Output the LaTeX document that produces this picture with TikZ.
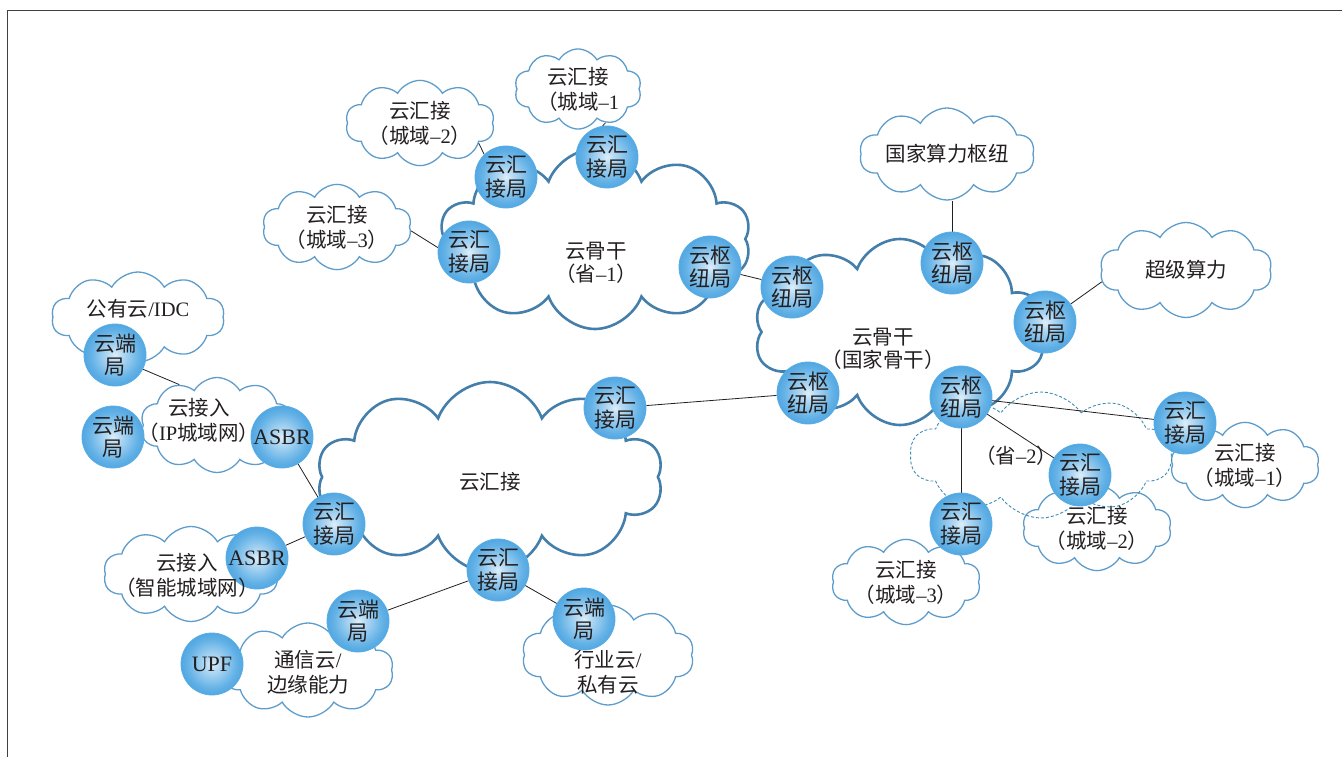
\documentclass[tikz,border=0pt]{standalone}
\usepackage{fontspec}
\setmainfont{Noto Sans CJK SC}
\newfontfamily\lat{Liberation Serif}
\usetikzlibrary{shapes.symbols}
\definecolor{ballA}{HTML}{DDEFFA}
\definecolor{ballB}{HTML}{B3D9F3}
\definecolor{ballC}{HTML}{62B1E6}
\definecolor{ballD}{HTML}{3595D8}
\definecolor{ballE}{HTML}{2580C8}
\definecolor{ballrim}{HTML}{5AAEE6}
\definecolor{cloudline}{HTML}{5E9DCB}
\definecolor{bigline}{HTML}{447FAC}
\definecolor{dashc}{HTML}{3F8CB2}
\definecolor{txt}{HTML}{231F20}
\pgfdeclarelayer{bg}
\pgfsetlayers{bg,main}
\pgfdeclareradialshading{ballshade}{\pgfpoint{0bp}{0bp}}{%
  color(0bp)=(ballA); color(6bp)=(ballB); color(20bp)=(ballC); color(34bp)=(ballD); color(50bp)=(ballE)}
\begin{document}
\begin{tikzpicture}[x=1pt,y=-1pt,
  ball/.style={circle,minimum size=62pt,inner sep=0pt,shading=ballshade,draw=ballrim,line width=0.8pt,
    align=center,font=\fontsize{21}{23.5}\selectfont,text=txt},
  smallcl/.style={cloud,cloud puffs=10,cloud puff arc=120,cloud ignores aspect,draw=cloudline,
    line width=1.3pt,fill=white,inner sep=0pt,align=center,font=\fontsize{20.5}{25}\selectfont,text=txt},
  bigcl/.style={cloud,cloud puffs=10,cloud puff arc=140,cloud ignores aspect,draw=bigline,
    line width=2.6pt,fill=white,inner sep=0pt},
  dashcl/.style={cloud,cloud puffs=10,cloud puff arc=110,cloud ignores aspect,draw=dashc,
    dash pattern=on 3pt off 2pt,line width=0.9pt,inner sep=0pt},
  lbl/.style={align=center,font=\fontsize{20.5}{23}\selectfont,text=txt,inner sep=0pt},
  clbl/.style={align=center,font=\fontsize{20.5}{25}\selectfont,text=txt,inner sep=0pt},
  link/.style={draw=txt,line width=0.8pt},
  frame/.style={draw=black!75,line width=0.9pt}]
\useasboundingbox (0,0) rectangle (1342,757);
\draw[frame] (7,757) -- (7,10) -- (1342,10);

% ---- stations ----
\node[ball] (A) at (506,177) {云汇\\接局};
\node[ball] (B) at (607,157) {云汇\\接局};
\node[ball] (C) at (469,252) {云汇\\接局};
\node[ball] (D) at (710,267) {云枢\\纽局};
\node[ball] (E) at (792,287) {云枢\\纽局};
\node[ball] (F) at (952,263) {云枢\\纽局};
\node[ball] (G) at (1045,322) {云枢\\纽局};
\node[ball] (H) at (808,393) {云枢\\纽局};
\node[ball] (I) at (961,397) {云枢\\纽局};
\node[ball] (J) at (1185,423) {云汇\\接局};
\node[ball] (K) at (1080,475) {云汇\\接局};
\node[ball] (L) at (961,524) {云汇\\接局};
\node[ball] (M) at (615,408) {云汇\\接局};
\node[ball] (N) at (334,524) {云汇\\接局};
\node[ball] (O) at (498,570) {云汇\\接局};
\node[ball,font=\fontsize{22}{24}\selectfont] (P) at (282,437) {\lat ASBR};
\node[ball,font=\fontsize{22}{24}\selectfont] (Q) at (257,558) {\lat ASBR};
\node[ball] (R) at (115,355) {云端\\局};
\node[ball] (S) at (113,437) {云端\\局};
\node[ball] (T) at (358,621) {云端\\局};
\node[ball] (U) at (584,619) {云端\\局};
\node[ball,font=\fontsize{22}{24}\selectfont] (V) at (212,664) {\lat UPF};

% ---- cloud labels ----
\node[lbl] (t1) at (596,263) {云骨干\\（省{\lat –1}）};
\node[lbl] (t2) at (883,349) {云骨干\\（国家骨干）};
\node[lbl] (t3) at (490,482) {云汇接};
\node[lbl] (t4) at (1016,456) {（省{\lat –2}）};
\node[clbl] (t5) at (138,309) {公有云{\lat /IDC}};
\node[clbl] (t6) at (199,420) {云接入\\（{\lat IP}城域网）};
\node[clbl] (t7) at (187,575) {云接入\\（智能城域网）};
\node[clbl] (t8) at (308,672) {通信云{\lat /}\\边缘能力};
\node[clbl] (t9) at (608,672) {行业云{\lat /}\\私有云};

\begin{pgfonlayer}{bg}
% big clouds
\node[bigcl,minimum width=312pt,minimum height=180pt] (p1) at (595,239) {};
\node[bigcl,minimum width=292pt,minimum height=186pt] (nat) at (900,332) {};
\node[bigcl,minimum width=346pt,minimum height=190pt] (hj) at (490,477) {};
% small clouds
\node[smallcl,minimum width=127pt,minimum height=67pt] (c1t) at (578,89) {云汇接\\（城域{\lat –1}};
\node[smallcl,minimum width=126pt,minimum height=70pt] (c2t) at (420,123) {云汇接\\（城域{\lat –2}）};
\node[smallcl,minimum width=129pt,minimum height=70pt] (c3t) at (337,227) {云汇接\\（城域{\lat –3}）};
\node[smallcl,minimum width=175pt,minimum height=92pt] (hub) at (947,154) {国家算力枢纽};
\node[smallcl,minimum width=172pt,minimum height=95pt] (sup) at (1186,270) {超级算力};
\node[smallcl,minimum width=132pt,minimum height=70pt] (c1r) at (1245,465) {云汇接\\（城域{\lat –1}）};
\node[smallcl,minimum width=129pt,minimum height=70pt] (c2r) at (1097,528) {云汇接\\（城域{\lat –2}）};
\node[smallcl,minimum width=132pt,minimum height=70pt] (c3r) at (906,582) {云汇接\\（城域{\lat –3}）};
\node[smallcl,minimum width=173pt,minimum height=90pt] (pub) at (138,317) {};
\node[smallcl,minimum width=153pt,minimum height=95pt] (ipc) at (217,425) {};
\node[smallcl,minimum width=175pt,minimum height=95pt] (smc) at (191,574) {};
\node[smallcl,minimum width=171pt,minimum height=94pt] (com) at (308,670) {};
\node[smallcl,minimum width=172pt,minimum height=100pt] (ind) at (608,655) {};
% dashed province-2 cloud
\node[dashcl,minimum width=262pt,minimum height=126pt] (p2) at (1041,455) {};
% connectors
\draw[link] (c2t.-19) -- (A.134);
\draw[link] (c1t.-51) -- (B.98);
\draw[link] (c3t.-3) -- (C.172);
\draw[link] (D) -- (E);
\draw[link] (F.north) -- (F.north |- hub.south);
\draw[link] (G.35) -- (sup.188);
\draw[link] (H) -- (M);
\draw[link] (I) -- (J);
\draw[link] (I) -- (K);
\draw[link] (I) -- (L);
\draw[link] (R.-27) -- (ipc.133);
\draw[link] (P) -- (N);
\draw[link] (Q) -- (N);
\draw[link] (O) -- (T);
\draw[link] (O) -- (U);
\end{pgfonlayer}
\end{tikzpicture}
\end{document}
